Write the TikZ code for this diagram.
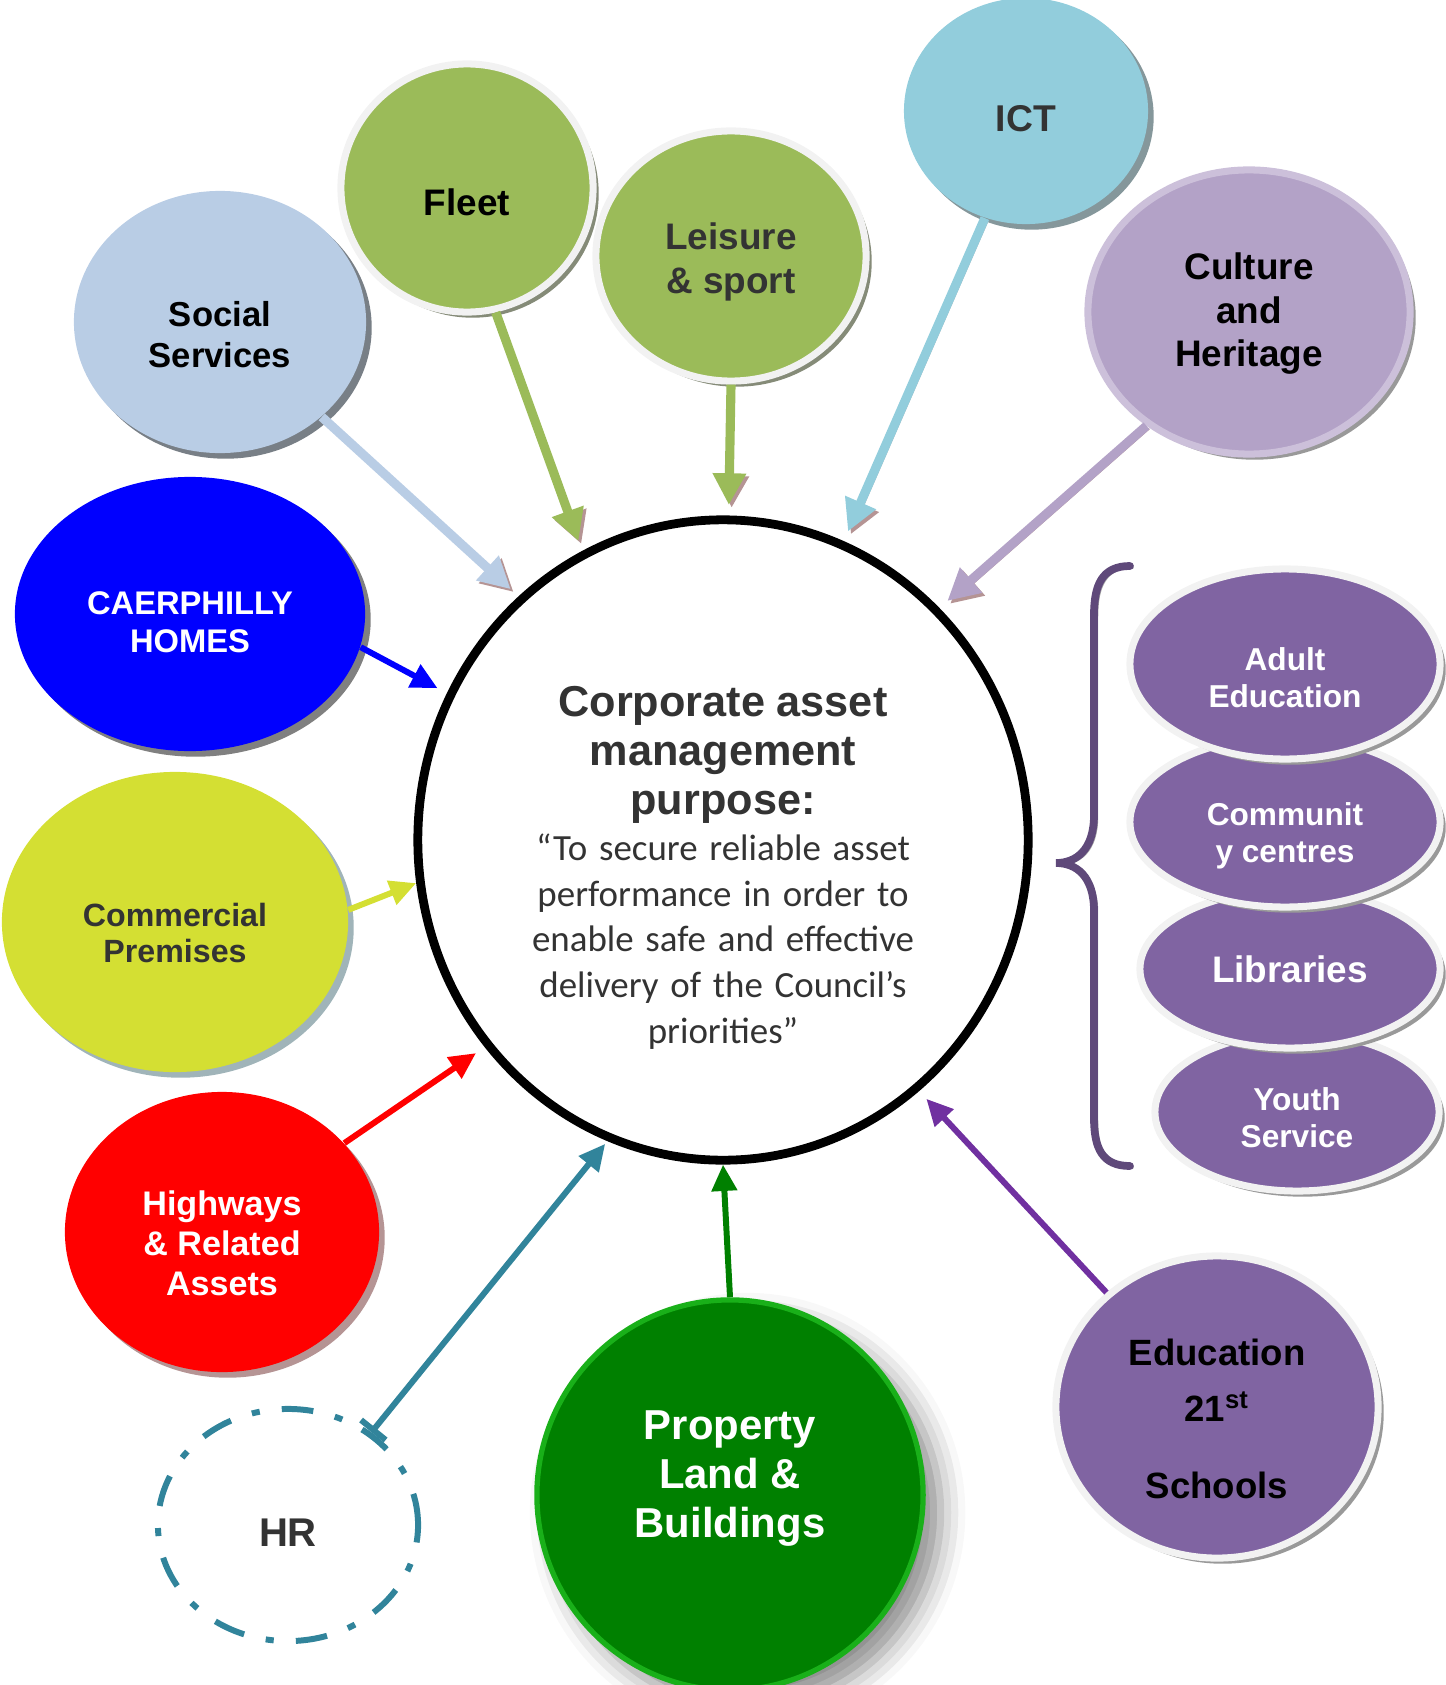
\documentclass[tikz,border=0pt]{standalone}
\usepackage{fontspec}
\setmainfont{Liberation Sans}
\newfontfamily\calfont{Carlito}
\usetikzlibrary{shapes.geometric,arrows.meta,shadows,shadows.blur}

\definecolor{ssblue}{HTML}{B9CDE5}
\definecolor{leafgreen}{HTML}{9BBB59}
\definecolor{ictcyan}{HTML}{92CDDC}
\definecolor{lilac}{HTML}{B3A2C7}
\definecolor{lilacring}{HTML}{CCC0DA}
\definecolor{homesblue}{HTML}{0000FF}
\definecolor{limey}{HTML}{D4DF33}
\definecolor{hwred}{HTML}{FF0000}
\definecolor{hrteal}{HTML}{31849B}
\definecolor{propgreen}{HTML}{008000}
\definecolor{propedge}{HTML}{19B019}
\definecolor{eduviolet}{HTML}{8064A2}
\definecolor{eduarrow}{HTML}{7030A0}
\definecolor{bracepurple}{HTML}{5F497A}
\definecolor{ringgrey}{HTML}{F2F2F2}
\definecolor{darktext}{HTML}{333333}
\definecolor{arrowshade}{HTML}{B59494}

% struts to move a label up or down inside its bubble
\newcommand\liftline[1]{\rule{0pt}{#1}}
\newcommand\sinkline[1]{\rule[-#1]{0pt}{0pt}}

\begin{document}
\begin{tikzpicture}[x=0.01cm, y=-0.01cm,
    bubble/.style = {ellipse, inner sep=0pt, align=center, font=\bfseries\fontsize{10}{11.8}\selectfont},
    ring/.style = {draw=#1, line width=2pt},
    shad/.style = {drop shadow={shadow xshift=1.6pt, shadow yshift=-1.6pt, fill=#1, opacity=1}},
    thickarr/.style = {draw=#1, line width=2.6pt, -{Triangle[length=9pt,width=9pt]}, shorten >=3pt,
        preaction={draw=arrowshade, transform canvas={shift={(0.8pt,-0.8pt)}}}},
    thinarr/.style = {draw=#1, line width=1.7pt, -{Triangle[length=7.5pt,width=7pt]}, shorten >=3pt},
    coretext/.style = {text width=4.6cm, align=center, text=darktext, inner sep=0pt}]
\useasboundingbox (0,0) rectangle (1446,1685);

% centre
\node[ellipse, draw, line width=2.5pt, minimum width=6.1cm, minimum height=6.4cm] (core) at (723,840) {};
\node[coretext] (purpose) at (723,868) {%
  {\bfseries\fontsize{12.3}{13.9}\selectfont Corporate asset\\ management\\ purpose:\par}
  {\calfont\fontsize{10.5}{13}\selectfont “To secure reliable asset\\ performance in order to\\ enable safe and effective\\ delivery of the Council’s\\ priorities”\par}};

% services round the top
\node[bubble, fill=ssblue, shad={gray!60!ssblue!80!black}, minimum width=2.92cm, minimum height=2.62cm,
      font=\bfseries\fontsize{9.85}{11.6}\selectfont] (ss) at (220,322) {\liftline{14.4pt}Social\\Services};
\node[bubble, fill=leafgreen, ring=ringgrey, shad={gray!80!leafgreen}, minimum width=2.52cm, minimum height=2.48cm,
      font=\bfseries\fontsize{10.5}{12.5}\selectfont] (fleet) at (467,188) {\liftline{15.7pt}Fleet};
\node[bubble, fill=leafgreen, ring=ringgrey, shad={gray!80!leafgreen}, minimum width=2.7cm, minimum height=2.5cm,
      text=darktext, font=\bfseries\fontsize{10.5}{12.5}\selectfont] (leisure) at (731,256) {\liftline{11.1pt}Leisure\\\& sport};
\node[bubble, fill=ictcyan, shad={gray!70!ictcyan}, minimum width=2.44cm, minimum height=2.26cm,
      text=darktext, font=\bfseries\fontsize{10.6}{12.5}\selectfont] (ict) at (1026,111) {\liftline{12pt}ICT};
\node[bubble, fill=lilac, ring=lilacring, shad={gray!80}, minimum width=3.22cm, minimum height=2.84cm,
      font=\bfseries\fontsize{10.5}{12.4}\selectfont] (culture) at (1249,312) {\liftline{8.5pt}Culture\\and\\Heritage};

% left side
\node[bubble, fill=homesblue, shad={gray}, minimum width=3.5cm, minimum height=2.74cm,
      text=white, font=\bfseries\fontsize{9.3}{10.7}\selectfont] (homes) at (190,614) {\liftline{11pt}CAERPHILLY\\HOMES};
\node[bubble, fill=limey, shad={gray!60!hrteal!60}, minimum width=3.46cm, minimum height=3cm,
      text=darktext, font=\bfseries\fontsize{9.15}{10.3}\selectfont] (commercial) at (175,922) {\liftline{12.8pt}Commercial\\Premises};
\node[bubble, fill=hwred, shad={arrowshade}, minimum width=3.14cm, minimum height=2.8cm,
      text=white, font=\bfseries\fontsize{9.7}{11.4}\selectfont] (highways) at (222,1232) {\liftline{13.3pt}Highways\\\& Related\\Assets};
\node[bubble, draw=hrteal, line width=1.7pt, dash pattern=on 9pt off 6.3pt on 2.3pt off 6.3pt,
      minimum width=2.6cm, minimum height=2.32cm,
      text=darktext, font=\bfseries\fontsize{11.4}{13}\selectfont] (hr) at (288,1525) {\liftline{12pt}HR};

% bottom
\node[bubble, fill=propgreen, draw=propedge, line width=1.5pt,
      blur shadow={shadow xshift=5pt, shadow yshift=-5pt, shadow blur radius=7pt, shadow opacity=45},
      minimum width=3.86cm, minimum height=3.9cm,
      text=white, font=\bfseries\fontsize{11.9}{14}\selectfont] (property) at (730,1495) {Property\\Land \&\\Buildings\sinkline{12pt}};
\node[bubble, fill=eduviolet, ring=ringgrey, shad={gray!80}, minimum width=3.22cm, minimum height=3.02cm,
      font=\bfseries\fontsize{10.4}{16}\selectfont] (education) at (1217,1407) {\liftline{14.4pt}Education\\21\textsuperscript{st}\\[6pt]Schools};

% education stack, lowest first
\node[bubble, fill=eduviolet, ring=ringgrey, shad={gray!80}, minimum width=2.84cm, minimum height=1.58cm,
      text=white, font=\bfseries\fontsize{9}{10.6}\selectfont] (youth) at (1297,1112) {\liftline{9.7pt}Youth\\Service};
\node[bubble, fill=eduviolet, ring=ringgrey, shad={gray!80}, minimum width=3cm, minimum height=1.58cm,
      text=white, font=\bfseries\fontsize{10.5}{12}\selectfont] (libraries) at (1290,969) {Libraries};
\node[bubble, fill=eduviolet, ring=ringgrey, shad={gray!80}, minimum width=3.1cm, minimum height=1.7cm,
      text=white, font=\bfseries\fontsize{9}{10.6}\selectfont] (community) at (1285,822) {\liftline{14.3pt}Communit\\y centres};
\node[bubble, fill=eduviolet, ring=ringgrey, shad={gray!80}, minimum width=3.1cm, minimum height=1.9cm,
      text=white, font=\bfseries\fontsize{9}{10.6}\selectfont] (adult) at (1285,664) {\liftline{14.3pt}Adult\\Education};

% brace
\draw[bracepurple, line width=2.2pt, line cap=round,
      preaction={draw=gray!70, transform canvas={shift={(1pt,-0.5pt)}}}]
  (1130,566) .. controls (1102,566) and (1094,585) .. (1094,615) -- (1094,815)
  .. controls (1094,850) and (1076,863) .. (1056,863)
  .. controls (1076,863) and (1094,876) .. (1094,911) -- (1094,1118)
  .. controls (1094,1148) and (1102,1166) .. (1130,1166);

% arrows into the centre
\draw[thickarr=ssblue] (ss.-43) -- (core.130);
\draw[thickarr=leafgreen] (fleet.-77) -- (core.116);
\draw[thickarr=leafgreen] (leisure.-90) -- (core.89);
\draw[thickarr=ictcyan] (ict.-111) -- (core.68);
\draw[thickarr=lilac] (culture.-132) -- (core.47);
\draw[thinarr=homesblue] (homes.-11) -- (core.152);
\draw[thinarr=limey, shorten >=0pt] (commercial.4) -- (core.188);
\draw[thinarr=hwred] (highways.36) -- (core.221);
\draw[thinarr=hrteal, shorten >=1pt, {Bar[width=9pt]}-{Triangle[length=7.5pt,width=7pt]}] (hr.48) -- (core.249);
\draw[thinarr=propgreen, shorten >=0pt] (property.90) -- (core.270);
\draw[thinarr=eduarrow] (education.134) -- (core.308);

\end{tikzpicture}
\end{document}
